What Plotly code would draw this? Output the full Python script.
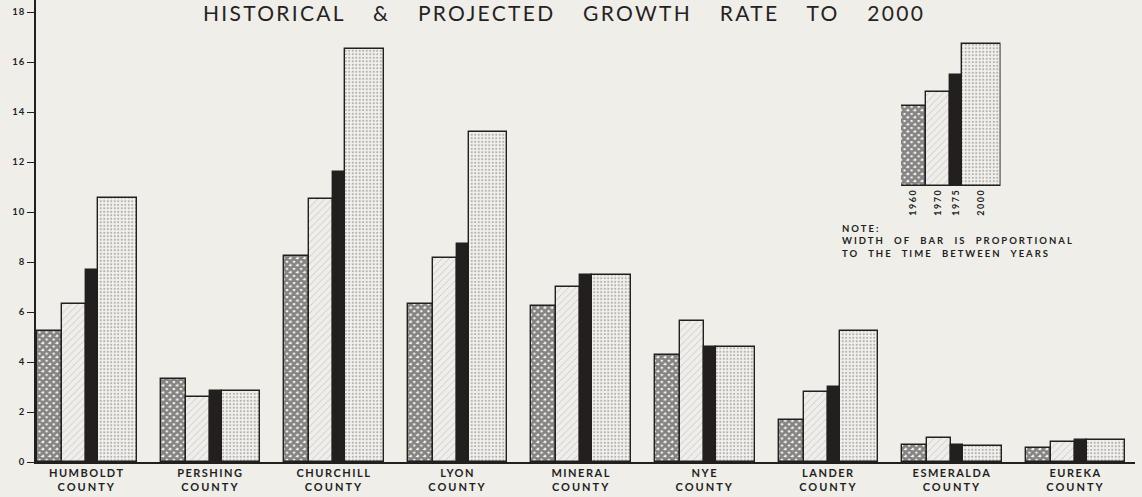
import plotly.graph_objects as go

# ---- data -------------------------------------------------------------
counties = ["HUMBOLDT", "PERSHING", "CHURCHILL", "LYON", "MINERAL",
            "NYE", "LANDER", "ESMERALDA", "EUREKA"]
years = ["1960", "1970", "1975", "2000"]

rate_1960 = [5.25, 3.32, 8.24, 6.32, 6.24, 4.28, 1.67, 0.70, 0.58]
rate_1970 = [6.32, 2.60, 10.53, 8.17, 7.01, 5.64, 2.81, 0.95, 0.80]
rate_1975 = [7.68, 2.84, 11.60, 8.72, 7.48, 4.61, 3.01, 0.67, 0.87]
rate_2000 = [10.57, 2.84, 16.52, 13.19, 7.48, 4.61, 5.25, 0.65, 0.88]

legend_heights = [3.2, 3.76, 4.44, 5.68]
y_ticks = [0, 2, 4, 6, 8, 10, 12, 14, 16, 18]

# ---- layout constants -------------------------------------------------
BG = "#efeee9"
INK = "#231f1f"
GROUP_STEP = 123.6
GROUP_START = 1.0
BAR_W = [25, 24, 12, 38.5]          # bar width tracks the span of years
GROUP_W = sum(BAR_W)

styles = [
    dict(shape="x", fgcolor="#161212", bgcolor="#f6f6f4", size=5, solidity=0.8),
    dict(shape="/", fgcolor="#9a9794", bgcolor="#efeeea", size=5, solidity=0.16),
    None,
    dict(shape=".", fgcolor="#75726f", bgcolor="#f2f1ee", size=3.5, solidity=0.32),
]


def tracked(s, ls, ws=0):
    """Wrap text in a span with letter / word spacing."""
    return f"<span style='letter-spacing:{ls}px;word-spacing:{ws}px'>{s}</span>"


series = [rate_1960, rate_1970, rate_1975, rate_2000]
fig = go.Figure()

offset = 0.0
for k, (yr, vals) in enumerate(zip(years, series)):
    w = BAR_W[k]
    xs = [GROUP_START + i * GROUP_STEP + offset + w / 2 for i in range(len(counties))]
    marker = dict(line=dict(color=INK, width=1.4))
    if styles[k] is None:
        marker["color"] = INK
    else:
        marker["color"] = styles[k]["bgcolor"]
        marker["pattern"] = styles[k]
    fig.add_trace(go.Bar(x=xs, y=vals, width=w, marker=marker, name=yr,
                         showlegend=False, xaxis="x", yaxis="y"))
    # key sample in the inset panel
    fig.add_trace(go.Bar(x=[offset + w / 2], y=[legend_heights[k]], width=w,
                         marker=marker, name=yr, showlegend=False,
                         xaxis="x2", yaxis="y2"))
    offset += w

centers = [GROUP_START + i * GROUP_STEP + GROUP_W / 2 for i in range(len(counties))]
tick_text = [tracked(c, 1.5) + "<br>" + tracked("COUNTY", 2) for c in counties]

key_centers = []
acc = 0.0
for w in BAR_W:
    key_centers.append(acc + w / 2)
    acc += w

PLOT_L, PLOT_R = 36, 1135
PLOT_W = PLOT_R - PLOT_L
PLOT_H = 462


def px_x(p):
    return (p - PLOT_L) / PLOT_W


def px_y(p):
    return (PLOT_H - p) / PLOT_H


note = "<br>".join(tracked(t, 2, 5) for t in
                   ["NOTE:", "WIDTH OF BAR IS PROPORTIONAL", "TO THE TIME BETWEEN YEARS"])

fig.update_layout(
    width=1142, height=497,
    margin=dict(l=PLOT_L, r=1142 - PLOT_R, t=0, b=497 - PLOT_H),
    paper_bgcolor=BG, plot_bgcolor=BG,
    barmode="overlay", bargap=0,
    font=dict(family="Lato, 'DejaVu Sans', sans-serif", color=INK),
    xaxis=dict(range=[0, PLOT_W], showgrid=False, zeroline=False,
               showline=True, linecolor=INK, linewidth=1.5,
               tickvals=centers, ticktext=tick_text, ticks="",
               tickfont=dict(size=11, family="Lato", weight="bold", color=INK)),
    yaxis=dict(range=[0, PLOT_H / 25.0], showgrid=False, zeroline=False,
               showline=True, linecolor=INK, linewidth=1.5,
               tickvals=y_ticks, ticktext=[tracked(str(v), 1) for v in y_ticks],
               ticks="outside", ticklen=7, tickwidth=1.2, tickcolor=INK,
               tickfont=dict(size=9.5, family="Lato", weight="bold", color=INK)),
    xaxis2=dict(domain=[px_x(901), px_x(901 + GROUP_W)], range=[0, GROUP_W],
                anchor="y2", showgrid=False, zeroline=False, showline=False,
                tickvals=key_centers, ticktext=[tracked(y, 1.5) for y in years],
                tickangle=-90, ticks="",
                tickfont=dict(size=9, family="Lato", weight="bold", color=INK)),
    yaxis2=dict(domain=[px_y(186), px_y(36)], range=[0, 6], anchor="x2",
                showgrid=False, zeroline=False, showline=False,
                showticklabels=False, ticks=""),
    annotations=[
        dict(text=tracked("HISTORICAL & PROJECTED GROWTH RATE TO 2000", 2.3, 20),
             xref="paper", yref="paper", x=px_x(564), y=px_y(13),
             xanchor="center", yanchor="middle", showarrow=False,
             font=dict(size=21, family="Lato", color="#262222")),
        dict(text=note,
             xref="paper", yref="paper", x=px_x(840), y=px_y(221),
             xanchor="left", yanchor="top", align="left", showarrow=False,
             font=dict(size=9.5, family="Lato", weight="bold", color=INK)),
    ],
)

fig.write_html("out.html")
